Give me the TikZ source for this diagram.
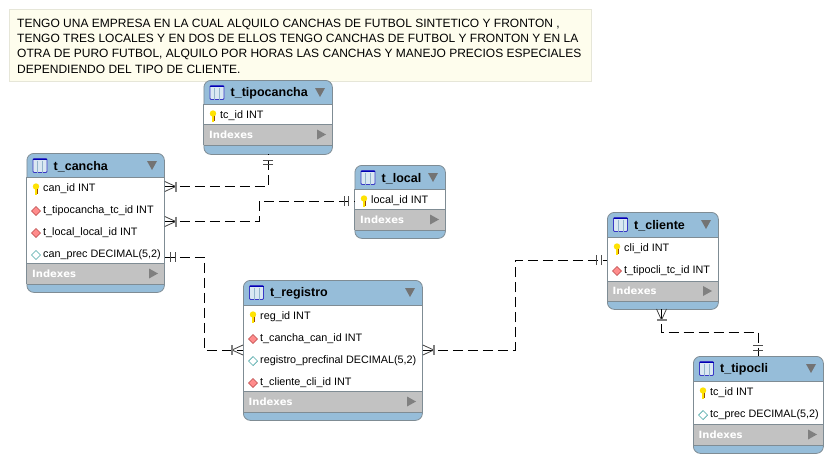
\documentclass[tikz,border=0pt]{standalone}
\usepackage{fontspec}
\setmainfont{Liberation Sans}
\newfontfamily\idxfont{DejaVu Sans}
\definecolor{hdrblue}{HTML}{96BDD9}
\definecolor{idxgray}{HTML}{C2C2C2}
\definecolor{edgegray}{HTML}{7F8C94}
\definecolor{notebg}{HTML}{FEFDED}
\definecolor{noteedge}{HTML}{E6E6D8}
\tikzset{
  tablebox/.style={draw=edgegray,fill=hdrblue,rounded corners=7pt,inner sep=0pt,anchor=north west,line width=.8pt},
  tabletitle/.style={anchor=west,inner sep=0pt,font=\fontsize{12.5}{14}\selectfont\bfseries},
  rowtext/.style={anchor=west,inner sep=0pt,font=\fontsize{10.8}{12}\selectfont},
  idxtext/.style={anchor=west,inner sep=0pt,text=white,font=\fontsize{10}{12}\idxfont\bfseries},
  link/.style={line width=1pt,dash pattern=on 10pt off 5pt},
  tick/.style={line width=1pt,black!70},
  pics/tableicon/.style={code={
    \draw[draw=blue!55!gray,fill=hdrblue!35!white,line width=.8pt,rounded corners=1pt] (-7,-7) rectangle (7,7);
    \draw[hdrblue!85!gray,line width=.7pt] (-2.5,-5) -- (-2.5,7) (2.5,-5) -- (2.5,7);
    \draw[blue!70!black,line width=1.2pt] (-7,-6.4) -- (7,-6.4);}},
  pics/keyicon/.style={code={
    \fill[yellow!85!orange] (-1.2,-1) rectangle (1.2,5.5);
    \fill[yellow!85!orange] (0,-2.5) circle (3.2);
    \draw[orange!60!black,line width=.4pt] (1.6,-.5) -- (1.6,5);}},
  pics/fkicon/.style={code={
    \draw[draw=red!45!gray,fill=red!45!white,line width=.6pt] (-4.5,0) -- (0,-4.5) -- (4.5,0) -- (0,4.5) -- cycle;}},
  pics/colicon/.style={code={
    \draw[draw=teal!70!white,fill=white,line width=.7pt] (-4.5,0) -- (0,-4.5) -- (4.5,0) -- (0,4.5) -- cycle;}},
}
% table frame: name, x1, x2, y top, y header, y rows, y indexes, y bottom, title
\newcommand{\ertable}[9]{
\node[tablebox,minimum width={#3-#2},minimum height={#8-#4}] (#1) at (#2,#4) {};
\fill[white] (#2,#5) rectangle (#3,#6);
\fill[idxgray] (#2,#6) rectangle (#3,#7);
\draw[edgegray,line width=.8pt] (#2,#5) -- (#3,#5) (#2,#6) -- (#3,#6) (#2,#7) -- (#3,#7);
\draw[edgegray,line width=.8pt] (#2,#5) -- (#2,#7) (#3,#5) -- (#3,#7);
\pic at ({#2+13.5},{#4+12.5}) {tableicon};
\node[tabletitle] (#1title) at ({#2+27},{#4+13.5}) {#9};
\fill[black!55] ({#3-17},{#4+8}) -- ({#3-7},{#4+8}) -- ({#3-12},{#4+17}) -- cycle;
\node[idxtext] (#1idx) at ({#2+5.5},{(#6+#7)/2}) {Indexes};
\fill[black!50] ({#3-15},{(#6+#7)/2-5}) -- ({#3-15},{(#6+#7)/2+5}) -- ({#3-6},{(#6+#7)/2}) -- cycle;
}
% crow foot, apex towards the relationship line
\newcommand{\crowfoot}[2]{
\begin{scope}[shift={(#1)},rotate=#2]
\draw[line width=.8pt,black!75] (0,-5) -- (11,0) -- (0,5);
\draw[line width=1.6pt,black!50] (11,-5) -- (11,5);
\end{scope}
}
\newcommand{\onebar}[2]{
\begin{scope}[shift={(#1)},rotate=#2]
\draw[tick] (6,-5) -- (6,5) (10.5,-5) -- (10.5,5);
\end{scope}
}
\begin{document}
\begin{tikzpicture}[x=1pt,y=-1pt]
\useasboundingbox (0,0) rectangle (832,463);
\node[draw=noteedge,fill=notebg,anchor=north west,inner sep=0pt,minimum width=582pt,minimum height=72pt] (note) at (9,9) {};
\node[anchor=west,align=left,inner sep=0pt,font=\fontsize{12}{15.3}\selectfont] (notetext) at (17,46) {TENGO UNA EMPRESA EN LA CUAL ALQUILO CANCHAS DE FUTBOL SINTETICO Y FRONTON ,\\
TENGO TRES LOCALES Y EN DOS DE ELLOS TENGO CANCHAS DE FUTBOL Y FRONTON Y EN LA\\
OTRA DE PURO FUTBOL, ALQUILO POR HORAS LAS CANCHAS Y MANEJO PRECIOS ESPECIALES\\
DEPENDIENDO DEL TIPO DE CLIENTE.};
% tables
\ertable{tipocancha}{203.5}{332}{80}{104}{124}{145}{154}{t\_tipocancha}
\node[rowtext] (tcid) at (220,116) {tc\_id INT};
\pic at ([xshift=-7pt]tcid.west) {keyicon};
\ertable{cancha}{26.5}{164}{153}{177}{263}{284}{292}{t\_cancha}
\node[rowtext] (canid) at (43,189) {can\_id INT};
\node[rowtext] (canfka) at (43,211) {t\_tipocancha\_tc\_id INT};
\node[rowtext] (canfkb) at (43,233) {t\_local\_local\_id INT};
\node[rowtext] (canprec) at (43,255) {can\_prec DECIMAL(5,2)};
\pic at ([xshift=-7pt]canid.west) {keyicon};
\pic at ([xshift=-7pt]canfka.west) {fkicon};
\pic at ([xshift=-7pt]canfkb.west) {fkicon};
\pic at ([xshift=-7pt]canprec.west) {colicon};
\ertable{local}{354.5}{445}{165}{189}{209}{230}{238}{t\_local}
\node[rowtext] (localid) at (371,201) {local\_id INT};
\pic at ([xshift=-7pt]localid.west) {keyicon};
\ertable{registro}{243}{422}{280}{305}{391}{412}{420}{t\_registro}
\node[rowtext] (regid) at (260,317) {reg\_id INT};
\node[rowtext] (regfka) at (260,339) {t\_cancha\_can\_id INT};
\node[rowtext] (regprec) at (260,361) {registro\_precfinal DECIMAL(5,2)};
\node[rowtext] (regfkb) at (260,383) {t\_cliente\_cli\_id INT};
\pic at ([xshift=-7pt]regid.west) {keyicon};
\pic at ([xshift=-7pt]regfka.west) {fkicon};
\pic at ([xshift=-7pt]regprec.west) {colicon};
\pic at ([xshift=-7pt]regfkb.west) {fkicon};
\ertable{cliente}{607}{718}{212}{237}{281}{301}{309}{t\_cliente}
\node[rowtext] (cliid) at (624,249) {cli\_id INT};
\node[rowtext] (clifk) at (624,271) {t\_tipocli\_tc\_id INT};
\pic at ([xshift=-7pt]cliid.west) {keyicon};
\pic at ([xshift=-7pt]clifk.west) {fkicon};
\ertable{tipocli}{693}{823}{356}{381}{424}{445}{453}{t\_tipocli}
\node[rowtext] (tcidb) at (710,393) {tc\_id INT};
\node[rowtext] (tcprec) at (710,415) {tc\_prec DECIMAL(5,2)};
\pic at ([xshift=-7pt]tcidb.west) {keyicon};
\pic at ([xshift=-7pt]tcprec.west) {colicon};
% connector ends
\coordinate (ca) at (cancha.north east |- 0,186.5);
\coordinate (cb) at (cancha.north east |- 0,221.5);
\coordinate (cc) at (cancha.north east |- 0,257);
\coordinate (ta) at (268,154);
\coordinate (la) at (local.north west |- 0,201);
\coordinate (ra) at (registro.north west |- 0,350);
\coordinate (rb) at (registro.north east |- 0,350);
\coordinate (cla) at (cliente.north west |- 0,260);
\coordinate (clb) at (661.5,309);
\coordinate (tla) at (758,356);
% relationships
\draw[link] (ca) -- (268,186.5) -- (ta);
\draw[link] (cb) -- (259,221.5) -- (259,201) -- (la);
\draw[link] (cc) -- (204,257) -- (204,350) -- (ra);
\draw[link] (rb) -- (515,350) -- (515,260) -- (cla);
\draw[link] (clb) -- (661.5,332) -- (758,332) -- (tla);
\crowfoot{ca}{0}
\crowfoot{cb}{0}
\crowfoot{ra}{180}
\crowfoot{rb}{0}
\crowfoot{clb}{-90}
\onebar{cc}{0}
\onebar{ta}{-90}
\onebar{la}{180}
\onebar{cla}{180}
\onebar{tla}{90}
\end{tikzpicture}
\end{document}
